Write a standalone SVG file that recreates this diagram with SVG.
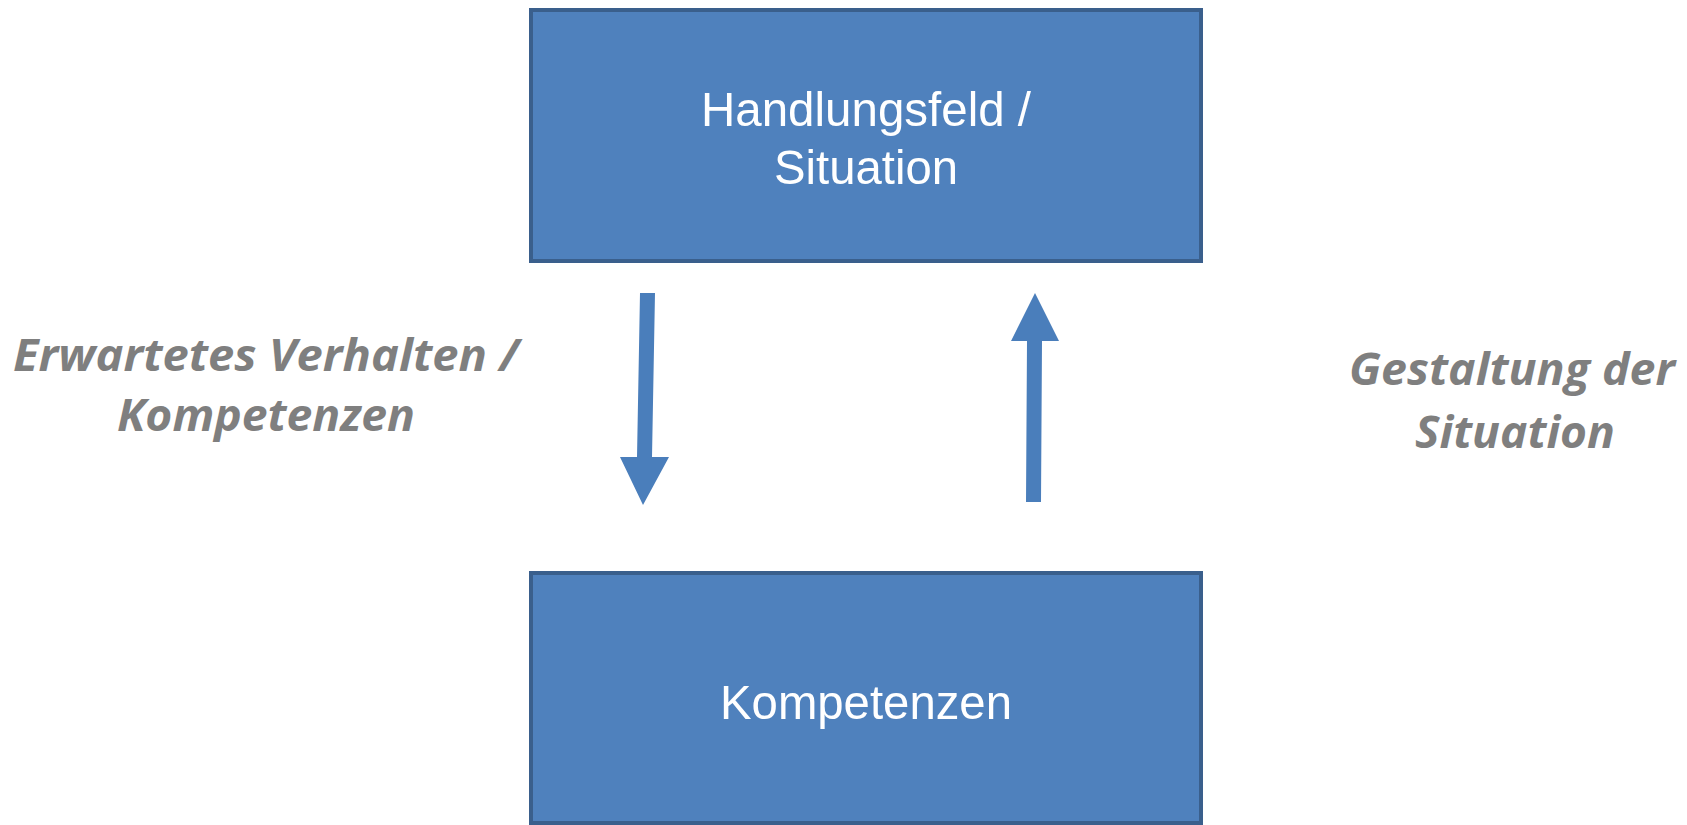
<svg xmlns="http://www.w3.org/2000/svg" width="1687" height="825" viewBox="0 0 1687 825">
<style>
.box{fill:#4F81BD;stroke:#3A5F8C;stroke-width:4}
.bt{fill:#FFFFFF;font-family:"Liberation Sans",Arial,sans-serif;font-size:49px;text-anchor:middle}
.lbl{fill:#7F7F7F;font-family:"Open Sans","Noto Sans",sans-serif;font-weight:bold;font-style:italic;font-size:45px;text-anchor:middle}
.arr{fill:#4A7EBB}
</style>
<rect width="1687" height="825" fill="#FFFFFF"/>
<g id="node-handlungsfeld">
<rect class="box" x="531" y="10" width="670" height="251"/>
<text class="bt" x="866" y="126" textLength="330" lengthAdjust="spacingAndGlyphs">Handlungsfeld /</text>
<text class="bt" x="866" y="184" textLength="184" lengthAdjust="spacingAndGlyphs">Situation</text>
</g>
<g id="node-kompetenzen">
<rect class="box" x="531" y="573" width="670" height="250"/>
<text class="bt" x="866" y="719" textLength="292" lengthAdjust="spacingAndGlyphs">Kompetenzen</text>
</g>
<g id="connectors">
<polygon class="arr" points="640,293 655,293 652,457 669,457 643,505 620,457 637,457"/>
<polygon class="arr" points="1035,293 1059,341 1042,341 1041,502 1026,502 1027,341 1011,341"/>
</g>
<g id="label-left">
<text class="lbl" x="266" y="371" textLength="506" lengthAdjust="spacingAndGlyphs">Erwartetes Verhalten /</text>
<text class="lbl" x="266" y="431" textLength="298" lengthAdjust="spacingAndGlyphs">Kompetenzen</text>
</g>
<g id="label-right">
<text class="lbl" x="1512" y="385" textLength="326" lengthAdjust="spacingAndGlyphs">Gestaltung der</text>
<text class="lbl" x="1515" y="448" textLength="200" lengthAdjust="spacingAndGlyphs">Situation</text>
</g>
</svg>
